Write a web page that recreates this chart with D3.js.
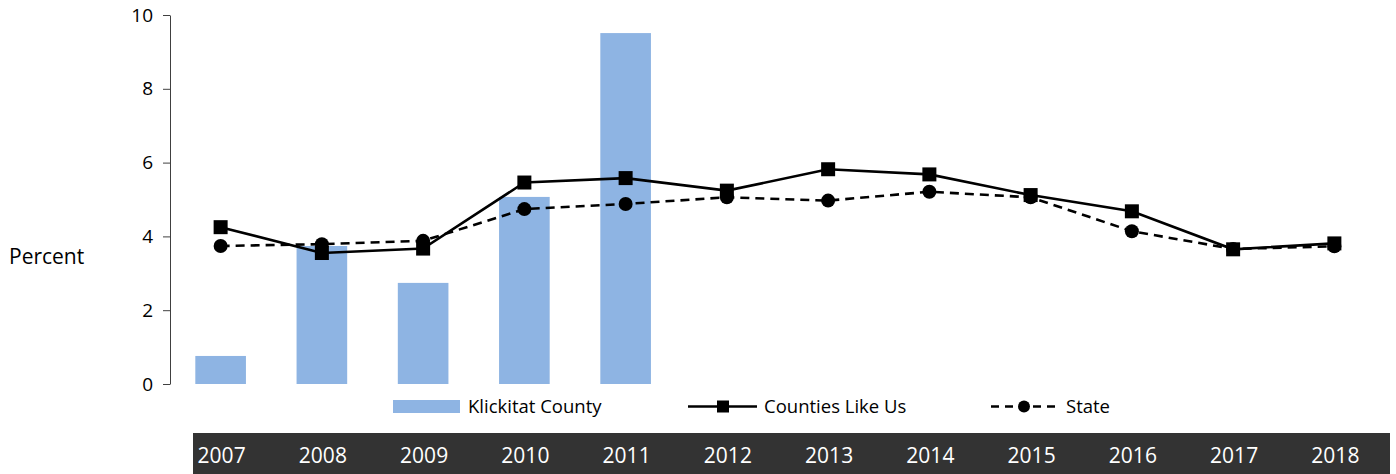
<!DOCTYPE html>
<html>
<head>
<meta charset="utf-8">
<script src="https://cdn.jsdelivr.net/npm/d3@7"></script>
<style>
  body { margin: 0; background: #fff; }
  svg { display: block; font-family: "Open Sans", sans-serif; }
</style>
</head>
<body>
<svg id="chart" width="1396" height="474"></svg>
<script>
// values
const years = ["2007","2008","2009","2010","2011","2012","2013","2014","2015","2016","2017","2018"];
const klickitat = [0.76, 3.74, 2.74, 5.07, 9.51, null, null, null, null, null, null, null];
const countiesLikeUs = [4.25, 3.55, 3.67, 5.46, 5.58, 5.24, 5.82, 5.68, 5.12, 4.68, 3.65, 3.81];
const stateVals = [3.74, 3.79, 3.88, 4.74, 4.88, 5.06, 4.97, 5.21, 5.06, 4.14, 3.66, 3.73];
const yTicks = [0, 2, 4, 6, 8, 10];

const barColor = "#8eb4e3";
const svg = d3.select("#chart");

const x = d3.scaleBand().domain(years).range([170, 1385]).padding(0);
const y = d3.scaleLinear().domain([0, 10]).range([384, 15]);
const cx = d => x(d) + x.bandwidth() / 2;
const barW = x.bandwidth() * 0.5;

// y axis
const yAxis = d3.axisLeft(y).tickValues(yTicks).tickSize(7).tickSizeOuter(0).tickPadding(10);
const gy = svg.append("g").attr("transform", "translate(170,0)").call(yAxis);
gy.select(".domain").attr("stroke", "#404040");
gy.selectAll(".tick line").attr("stroke", "#404040");
gy.selectAll(".tick text").attr("font-size", 19).attr("fill", "#000")
  .attr("font-family", "Open Sans, sans-serif");

svg.append("text").attr("x", 9).attr("y", 264).attr("font-size", 21).text("Percent");

// bars
const barData = years.map((d, i) => ({ year: d, v: klickitat[i] })).filter(d => d.v != null);
svg.append("g").selectAll("rect").data(barData).enter().append("rect")
  .attr("x", d => cx(d.year) - barW / 2)
  .attr("width", barW)
  .attr("y", d => y(d.v))
  .attr("height", d => y(0) - y(d.v))
  .attr("fill", barColor);

// lines
const line = d3.line().x(d => cx(d.year)).y(d => y(d.v));
const cData = years.map((d, i) => ({ year: d, v: countiesLikeUs[i] }));
const sData = years.map((d, i) => ({ year: d, v: stateVals[i] }));

svg.append("path").datum(cData).attr("d", line)
  .attr("fill", "none").attr("stroke", "#000").attr("stroke-width", 2.6);
svg.append("g").selectAll("rect").data(cData).enter().append("rect")
  .attr("x", d => cx(d.year) - 7).attr("y", d => y(d.v) - 7)
  .attr("width", 14).attr("height", 14).attr("fill", "#000");

svg.append("path").datum(sData).attr("d", line)
  .attr("fill", "none").attr("stroke", "#000").attr("stroke-width", 2.6)
  .attr("stroke-dasharray", "9,6");
svg.append("g").selectAll("circle").data(sData).enter().append("circle")
  .attr("cx", d => cx(d.year)).attr("cy", d => y(d.v)).attr("r", 7).attr("fill", "#000");

// legend
const lg = svg.append("g").attr("font-size", 18.5);
lg.append("rect").attr("x", 393).attr("y", 400).attr("width", 67).attr("height", 13).attr("fill", barColor);
lg.append("text").attr("x", 468).attr("y", 413).text("Klickitat County");

lg.append("line").attr("x1", 688).attr("x2", 757).attr("y1", 406.5).attr("y2", 406.5)
  .attr("stroke", "#000").attr("stroke-width", 2.6);
lg.append("rect").attr("x", 717).attr("y", 400.5).attr("width", 12).attr("height", 12).attr("fill", "#000");
lg.append("text").attr("x", 764).attr("y", 413).text("Counties Like Us");

lg.append("line").attr("x1", 991).attr("x2", 1056).attr("y1", 406.5).attr("y2", 406.5)
  .attr("stroke", "#000").attr("stroke-width", 2.6).attr("stroke-dasharray", "8,6");
lg.append("circle").attr("cx", 1024).attr("cy", 406.5).attr("r", 6).attr("fill", "#000");
lg.append("text").attr("x", 1066).attr("y", 413).text("State");

// dark year band
svg.append("rect").attr("x", 193).attr("y", 433).attr("width", 1197).attr("height", 41).attr("fill", "#333333");
svg.append("g").selectAll("text").data(years).enter().append("text")
  .attr("x", d => cx(d) + 1).attr("y", 463)
  .attr("text-anchor", "middle").attr("font-size", 21).attr("fill", "#fff")
  .text(d => d);
</script>
</body>
</html>
